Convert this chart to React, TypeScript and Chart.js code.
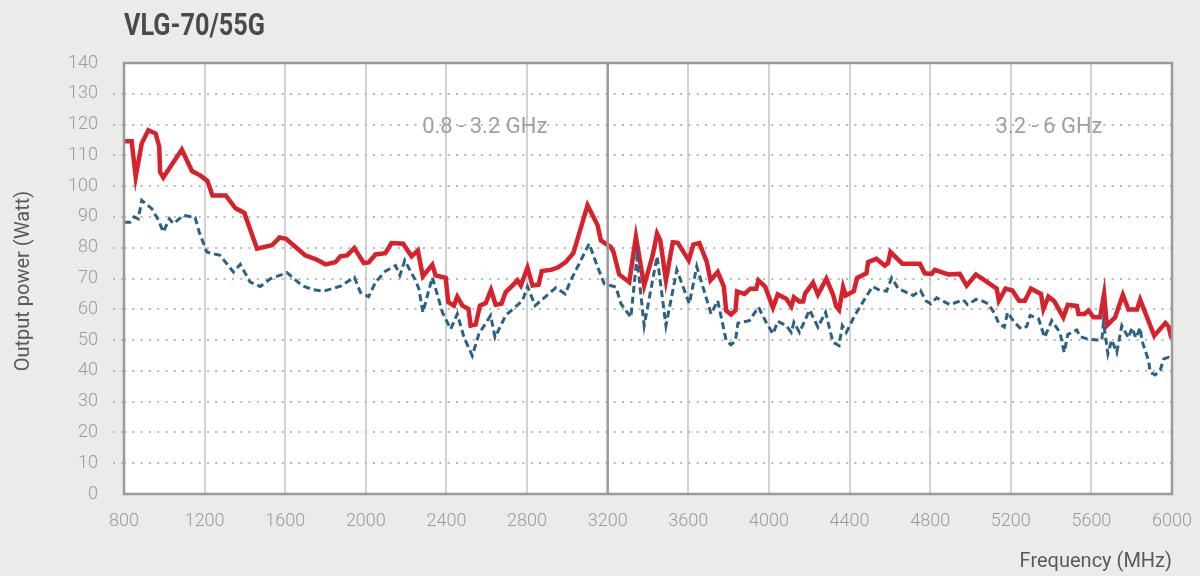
import React, { useEffect, useRef } from "react";
import { Chart, registerables } from "chart.js";

Chart.register(...registerables);

const chartTitle = "VLG-70/55G";
const yAxisTitle = "Output power (Watt)";
const xAxisTitle = "Frequency (MHz)";
const bandLabels = ["0.8 - 3.2 GHz", "3.2 - 6 GHz"];
const bandLabelFreqs = [2590, 5390];
const bandSplitFreq = 3200;

const redFreq = [
  800, 838, 858, 888, 921, 957, 975, 979, 995, 1087, 1137, 1178, 1214, 1239, 1305, 1352, 1397, 1460, 1534, 1572,
  1604, 1700, 1758, 1799, 1849, 1874, 1907, 1943, 1990, 2014, 2048, 2097, 2127, 2185, 2227, 2258, 2283, 2330, 2346,
  2396, 2409, 2437, 2454, 2479, 2509, 2520, 2545, 2566, 2595, 2621, 2644, 2673, 2694, 2727, 2752, 2769, 2802, 2827,
  2857, 2873, 2918, 2951, 2992, 3030, 3100, 3150, 3166, 3216, 3229, 3257, 3307, 3340, 3381, 3423, 3445, 3461, 3489,
  3523, 3548, 3602, 3625, 3655, 3692, 3710, 3746, 3776, 3788, 3812, 3834, 3842, 3879, 3908, 3937, 3948, 3981, 4020,
  4044, 4086, 4111, 4124, 4152, 4170, 4180, 4219, 4243, 4285, 4318, 4334, 4348, 4368, 4381, 4421, 4438, 4484, 4492,
  4533, 4575, 4591, 4603, 4662, 4749, 4773, 4807, 4823, 4890, 4947, 4981, 5027, 5080, 5130, 5141, 5174, 5208, 5241,
  5270, 5300, 5350, 5362, 5387, 5416, 5461, 5483, 5528, 5536, 5566, 5586, 5610, 5643, 5663, 5677, 5718, 5756, 5784,
  5826, 5842, 5912, 5967, 5983, 5995, 6000,
];
const redPower = [
  114.6, 114.6, 103, 113.9, 118.2, 117.1, 112.8, 104.6, 102.8, 111.9, 104.9, 103.5, 101.7, 97, 97, 92.9, 91.3, 79.7,
  80.8, 83.3, 82.9, 77.5, 76.1, 74.6, 75.3, 77.2, 77.5, 79.9, 75, 75.2, 77.8, 78.2, 81.5, 81.3, 77.2, 79.1, 70.7,
  74.5, 71, 70.2, 62.3, 61.2, 64.1, 61.2, 60.1, 54.7, 55, 61.2, 62, 66.3, 61.5, 61.8, 65.6, 67.7, 69.4, 67.7, 73.5,
  67.7, 68, 72.4, 72.8, 73.5, 75.3, 78.3, 93.8, 87.3, 82.4, 80.2, 78.6, 71.3, 68.8, 83.5, 67.7, 77.5, 84.6, 82.4,
  69.4, 81.8, 81.6, 75.9, 81, 81.5, 75.3, 69.4, 72.1, 67.4, 59.6, 58.3, 59.6, 65.8, 65, 66.7, 66.7, 69.4, 67.4, 60.5,
  64.8, 63.4, 60.9, 63.9, 62.5, 62.6, 65.2, 68.6, 64.8, 69.9, 64.8, 60.9, 59.8, 67.2, 64.5, 65.9, 70.2, 71.7, 75.3,
  76.4, 74.2, 75, 78.6, 74.8, 74.8, 71.7, 71.5, 72.8, 71.3, 71.5, 67.7, 71.3, 69, 66.7, 62.8, 66.7, 66.1, 62.8, 62.8,
  66.7, 65, 60.1, 64.1, 62.6, 57.4, 61.4, 61.1, 58.5, 58.5, 59.6, 57.4, 57.4, 65, 54.7, 57.4, 64.7, 59.9, 59.9, 63.1,
  51.4, 55.5, 54.4, 51.1, 51,
];

const blueFreq = [
  800, 830, 850, 871, 888, 938, 971, 995, 1025, 1045, 1095, 1153, 1173, 1211, 1277, 1343, 1377, 1426, 1476, 1526,
  1609, 1683, 1733, 1791, 1874, 1943, 1973, 2014, 2048, 2097, 2147, 2169, 2193, 2246, 2263, 2283, 2330, 2380, 2421,
  2454, 2487, 2528, 2561, 2619, 2641, 2694, 2777, 2802, 2840, 2943, 2989, 3017, 3108, 3150, 3183, 3241, 3266, 3315,
  3345, 3381, 3445, 3489, 3543, 3605, 3642, 3713, 3746, 3788, 3812, 3834, 3846, 3903, 3948, 3986, 4020, 4044, 4086,
  4111, 4124, 4152, 4202, 4243, 4281, 4318, 4348, 4364, 4384, 4426, 4476, 4514, 4551, 4584, 4609, 4642, 4716, 4752,
  4778, 4803, 4832, 4898, 4964, 4985, 5027, 5055, 5088, 5121, 5141, 5168, 5184, 5218, 5251, 5279, 5296, 5338, 5368,
  5403, 5444, 5465, 5483, 5528, 5544, 5578, 5627, 5652, 5660, 5682, 5701, 5726, 5751, 5784, 5801, 5821, 5842, 5851,
  5867, 5884, 5892, 5917, 5942, 5959, 5983, 6000,
];
const bluePower = [
  88.3, 88.3, 90, 89.4, 95.4, 92.7, 88.9, 85.1, 89.4, 87.8, 90.5, 89.8, 85.1, 78.6, 77.5, 72.1, 74.6, 68.8, 67.4,
  69.9, 71.9, 67.7, 66.4, 65.9, 67.5, 70.4, 65.5, 64.1, 68.8, 72.4, 74.2, 71, 75.9, 69.4, 66.7, 59, 70.4, 59, 53.6,
  58.5, 50.9, 44.9, 52, 58, 50.9, 58, 62.8, 67.4, 61.2, 67, 65, 69.4, 81.3, 73.7, 68.3, 67.2, 61.8, 57.4, 76.9, 54.7,
  77.2, 54.7, 72.8, 61.8, 73.9, 58.5, 62.8, 49.8, 48.5, 49.8, 55.5, 56.3, 60.7, 55.8, 52, 56.1, 54.7, 52.5, 55.8,
  52.5, 59.8, 54.2, 59, 49.3, 48.2, 54.7, 52.5, 58, 63.4, 67.4, 66.1, 65.9, 70.2, 66.7, 64.5, 66.1, 62.8, 61.8, 63.7,
  61.5, 63.1, 61.5, 63.2, 62.8, 61.8, 58.5, 55.3, 54.2, 59, 55.8, 53.6, 54.4, 58, 56.9, 50.9, 56.3, 52.5, 46, 51.8,
  53.3, 51.1, 50.4, 50, 50, 55.8, 45.5, 50, 46, 54.7, 50.7, 54, 50.7, 54, 49.8, 46.6, 43.3, 39.5, 38.7, 40.3, 43.9,
  44.4, 44,
];

const FONT = "Roboto, 'Open Sans', sans-serif";

const decorPlugin = {
  id: "decor",
  beforeDraw(chart: any) {
    const { ctx, chartArea } = chart;
    ctx.save();
    ctx.fillStyle = "#ffffff";
    ctx.fillRect(chartArea.left, chartArea.top, chartArea.right - chartArea.left, chartArea.bottom - chartArea.top);
    ctx.restore();
  },
  afterDraw(chart: any) {
    const { ctx, chartArea, scales } = chart;
    const { left, right, top, bottom } = chartArea;
    ctx.save();
    const xs = scales.x.getPixelForValue(bandSplitFreq);
    ctx.strokeStyle = "#9a9a9a";
    ctx.lineWidth = 2.5;
    ctx.beginPath();
    ctx.moveTo(xs, top);
    ctx.lineTo(xs, bottom);
    ctx.stroke();
    ctx.strokeRect(left, top, right - left, bottom - top);

    ctx.fillStyle = "#4a4a4a";
    ctx.font = `bold 31px ${FONT}`;
    ctx.textBaseline = "alphabetic";
    ctx.textAlign = "left";
    const tw = ctx.measureText(chartTitle).width;
    const sx = 141 / tw;
    ctx.save();
    ctx.translate(124, 35);
    ctx.scale(sx, 1);
    ctx.fillText(chartTitle, 0, 0);
    ctx.restore();

    ctx.fillStyle = "#a0a0a0";
    ctx.font = `22px ${FONT}`;
    ctx.textAlign = "center";
    ctx.textBaseline = "middle";
    bandLabels.forEach((t, i) => {
      ctx.fillText(t, scales.x.getPixelForValue(bandLabelFreqs[i]), 127);
    });

    ctx.fillStyle = "#5a5a5a";
    ctx.font = `20px ${FONT}`;
    ctx.textAlign = "right";
    ctx.textBaseline = "alphabetic";
    ctx.fillText(xAxisTitle, 1172, 567);

    ctx.save();
    ctx.translate(29, 281);
    ctx.rotate(-Math.PI / 2);
    ctx.textAlign = "center";
    ctx.fillText(yAxisTitle, 0, 0);
    ctx.restore();
    ctx.restore();
  },
};

export default function App() {
  const ref = useRef<HTMLCanvasElement | null>(null);

  useEffect(() => {
    if (!ref.current) return;
    const red = redFreq.map((f, i) => ({ x: f, y: redPower[i] }));
    const blue = blueFreq.map((f, i) => ({ x: f, y: bluePower[i] }));
    const chart = new Chart(ref.current, {
      type: "line",
      data: {
        datasets: [
          {
            label: "blue",
            data: blue,
            borderColor: "#2b6183",
            borderWidth: 3,
            borderDash: [7, 4],
            pointRadius: 0,
            tension: 0,
            fill: false,
          },
          {
            label: "red",
            data: red,
            borderColor: "#d7212b",
            borderWidth: 4.5,
            pointRadius: 0,
            tension: 0,
            fill: false,
            borderJoinStyle: "miter",
          },
        ],
      },
      options: {
        animation: false,
        responsive: false,
        maintainAspectRatio: false,
        layout: { padding: { left: 0, right: 28, top: 63, bottom: 0 } },
        plugins: { legend: { display: false }, tooltip: { enabled: false }, title: { display: false } },
        scales: {
          x: {
            type: "linear",
            min: 800,
            max: 6000,
            border: { display: false },
            afterFit: (s: any) => {
              s.height = 82;
              s.paddingLeft = 0;
              s.paddingRight = 0;
            },
            grid: {
              drawTicks: false,
              color: (c: any) =>
                c.tick && (c.tick.value === 800 || c.tick.value === 6000 || c.tick.value === bandSplitFreq)
                  ? "rgba(0,0,0,0)"
                  : "#d2d2d2",
              lineWidth: 2,
            },
            ticks: {
              stepSize: 400,
              padding: 17,
              color: "#9b9b9b",
              font: { family: FONT, size: 18, weight: "300" },
              maxRotation: 0,
              autoSkip: false,
              callback: (v: any) => String(v),
            },
          },
          y: {
            min: 0,
            max: 140,
            border: { display: false, dash: [2, 6.3] },
            afterFit: (s: any) => {
              s.width = 124;
              s.paddingTop = 0;
              s.paddingBottom = 0;
            },
            grid: {
              drawTicks: true,
              tickLength: 11,
              color: (c: any) => (c.tick && (c.tick.value === 0 || c.tick.value === 140) ? "rgba(0,0,0,0)" : "#b8b8b8"),
              tickColor: (c: any) =>
                c.tick && (c.tick.value === 0 || c.tick.value === 140) ? "rgba(0,0,0,0)" : "#b8b8b8",
              lineWidth: 2,
              tickWidth: 2,
              tickBorderDash: [2, 6.3],
            },
            ticks: {
              stepSize: 10,
              padding: 15,
              color: "#9b9b9b",
              font: { family: FONT, size: 18, weight: "300" },
            },
          },
        },
      } as any,
      plugins: [decorPlugin],
    });
    return () => chart.destroy();
  }, []);

  return (
    <div style={{ position: "fixed", left: 0, top: 0, width: 1200, height: 576, background: "#ebebea" }}>
      <canvas ref={ref} width={1200} height={576} style={{ display: "block", width: 1200, height: 576 }} />
    </div>
  );
}
